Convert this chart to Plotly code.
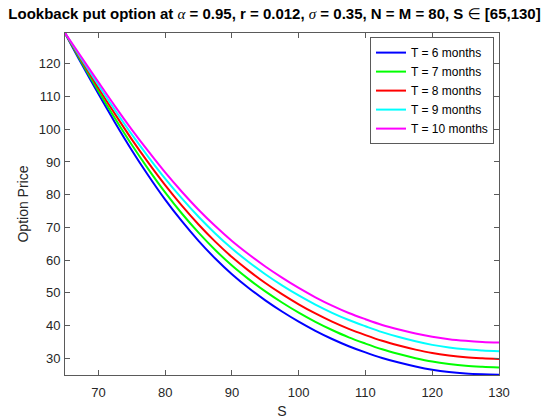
import plotly.graph_objects as go

S = [65, 67.5, 70, 72.5, 75, 77.5, 80, 82.5, 85, 87.5, 90, 92.5, 95, 97.5, 100,
     102.5, 105, 107.5, 110, 112.5, 115, 117.5, 120, 122.5, 125, 127.5, 130]

T6 = [129.4, 119.9, 110.8, 102.0, 93.6, 85.8, 78.5, 71.9, 65.9, 60.5, 55.7, 51.5, 47.7, 44.3, 41.2,
      38.4, 35.9, 33.7, 31.8, 30.1, 28.7, 27.5, 26.5, 25.8, 25.35, 25.1, 24.95]
T7 = [129.4, 120.4, 111.7, 103.3, 95.25, 87.75, 80.7, 74.25, 68.4, 63.1, 58.35, 54.2, 50.45, 47.05, 43.95,
      41.15, 38.65, 36.4, 34.5, 32.75, 31.3, 30.05, 29.0, 28.25, 27.7, 27.4, 27.2]
T8 = [129.4, 120.9, 112.6, 104.6, 96.9, 89.7, 82.9, 76.65, 70.9, 65.65, 60.95, 56.8, 53.0, 49.6, 46.5,
      43.7, 41.2, 39.0, 37.1, 35.35, 33.9, 32.65, 31.6, 30.85, 30.3, 30.0, 29.8]
T9 = [129.4, 121.4, 113.5, 105.8, 98.4, 91.5, 84.9, 78.85, 73.25, 68.15, 63.55, 59.45, 55.7, 52.3, 49.2,
      46.4, 43.9, 41.7, 39.8, 38.0, 36.5, 35.2, 34.1, 33.3, 32.75, 32.4, 32.15]
T10 = [129.4, 121.9, 114.4, 107.0, 99.9, 93.2, 86.8, 80.9, 75.4, 70.4, 65.85, 61.8, 58.05, 54.65, 51.5,
       48.65, 46.1, 43.85, 41.95, 40.2, 38.8, 37.6, 36.6, 35.85, 35.35, 35.0, 34.8]

names = ["T = 6 months", "T = 7 months", "T = 8 months", "T = 9 months", "T = 10 months"]
series = [T6, T7, T8, T9, T10]
colors = ["#0000ff", "#00ff00", "#ff0000", "#00ffff", "#ff00ff"]

xticks = [70, 80, 90, 100, 110, 120, 130]
yticks = [30, 40, 50, 60, 70, 80, 90, 100, 110, 120]

fig = go.Figure()
for name, vals, c in zip(names, series, colors):
    fig.add_trace(go.Scatter(x=S, y=vals, mode="lines", name=name,
                             line=dict(color=c, width=2, shape="spline", smoothing=1.0)))

ser = "font-family:'Liberation Serif';font-weight:normal;font-style:italic"
title = ("Lookback put option at <span style=\"" + ser + "\">α</span> = 0.95, r = 0.012, "
         "<span style=\"" + ser + "\">σ</span> = 0.35, N = M = 80, S "
         "<span style=\"font-family:'DejaVu Sans';font-weight:normal\">∈</span> [65,130]")

axcol = "#5a5a5a"
fig.update_layout(
    width=549, height=419,
    margin=dict(l=65, r=50, t=33, b=44, autoexpand=False),
    paper_bgcolor="white", plot_bgcolor="white",
    font=dict(family="Liberation Sans, Arial, sans-serif", size=13, color="#262626"),
    title=dict(text="<b>" + title + "</b>", x=0.5, xref="container", xanchor="center",
               y=0.966, yref="container", yanchor="middle",
               font=dict(size=15, color="black")),
    showlegend=True,
    legend=dict(x=0.9885, y=0.988, xanchor="right", yanchor="top",
                bgcolor="white", bordercolor=axcol, borderwidth=1,
                font=dict(size=12, color="black"), tracegroupgap=0),
)
fig.update_xaxes(range=[65, 130], tickvals=xticks, ticks="inside", ticklen=5,
                 tickcolor=axcol, showline=True, linecolor=axcol, linewidth=1,
                 mirror="ticks", showgrid=False, zeroline=False, ticklabelstandoff=5,
                 automargin=False,
                 title=dict(text="S", font=dict(size=14), standoff=8))
fig.update_yaxes(range=[24.9, 129.4], tickvals=yticks, ticks="inside", ticklen=5,
                 tickcolor=axcol, showline=True, linecolor=axcol, linewidth=1,
                 mirror="ticks", showgrid=False, zeroline=False, ticklabelstandoff=1,
                 automargin=False,
                 title=dict(text="Option Price", font=dict(size=14), standoff=6))

fig.write_html("out.html", config={"displayModeBar": False},
               post_script="document.body.style.margin='0';")
